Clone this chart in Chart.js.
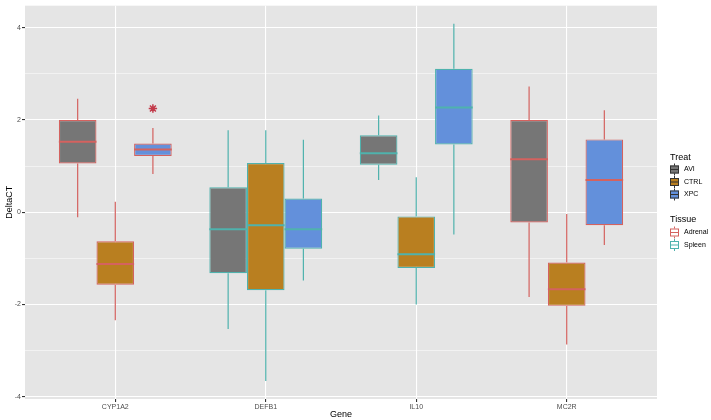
<!DOCTYPE html>
<html><head><meta charset="utf-8">
<script src="https://cdn.jsdelivr.net/npm/chart.js@4"></script>
<style>html,body{margin:0;padding:0;background:#fff;} #wrap{width:711px;height:420px;position:relative;}</style>
</head><body><div id="wrap"><canvas id="c" width="711" height="420"></canvas></div>
<script>
const genes = ['CYP1A2','DEFB1','IL10','MC2R'];
const geneTissue = ['Adrenal','Spleen','Spleen','Adrenal'];
const treats = ['AVI','CTRL','XPC'];
const tissues = ['Adrenal','Spleen'];
const yTickLabels = [-4,-2,0,2,4];

const aviLow  = [-0.11,-2.53, 0.70,-1.84];
const aviQ1   = [ 1.06,-1.32, 1.03,-0.22];
const aviMed  = [ 1.53,-0.37, 1.28, 1.15];
const aviQ3   = [ 2.00, 0.54, 1.67, 2.00];
const aviHigh = [ 2.46, 1.78, 2.10, 2.73];

const ctrlLow  = [-2.34,-3.66,-2.00,-2.87];
const ctrlQ1   = [-1.57,-1.69,-1.21,-2.03];
const ctrlMed  = [-1.12,-0.28,-0.91,-1.67];
const ctrlQ3   = [-0.63, 1.07,-0.09,-1.09];
const ctrlHigh = [ 0.23, 1.78, 0.76,-0.04];

const xpcLow  = [ 0.83,-1.48,-0.48,-0.71];
const xpcQ1   = [ 1.22,-0.79, 1.47,-0.28];
const xpcMed  = [ 1.36,-0.37, 2.27, 0.70];
const xpcQ3   = [ 1.49, 0.30, 3.11, 1.58];
const xpcHigh = [ 1.83, 1.57, 4.09, 2.21];

const outlierGene  = ['CYP1A2'];
const outlierTreat = ['XPC'];
const outlierValue = [2.25];

const treatFill = {AVI:'#767676', CTRL:'#B97F20', XPC:'#6390DB'};
const tissueColor = {Adrenal:'#D4625F', Spleen:'#4FB2AD'};
const outlierColor = '#C23A4A';
const FONT = '"Liberation Sans", Arial, sans-serif';

const stats = {
  AVI:  {low:aviLow, q1:aviQ1, med:aviMed, q3:aviQ3, high:aviHigh},
  CTRL: {low:ctrlLow, q1:ctrlQ1, med:ctrlMed, q3:ctrlQ3, high:ctrlHigh},
  XPC:  {low:xpcLow, q1:xpcQ1, med:xpcMed, q3:xpcQ3, high:xpcHigh}
};
const boxWidth = 0.75;
const edgeColors = geneTissue.map(t => tissueColor[t]);

const datasets = treats.map(t => ({
  type:'bar',
  label:t,
  treat:t,
  data: genes.map((g,i) => ({x:i+1, y:[stats[t].q1[i], stats[t].q3[i]]})),
  backgroundColor: treatFill[t],
  borderColor: edgeColors,
  borderWidth: 1.2,
  borderSkipped: false,
  categoryPercentage: boxWidth,
  barPercentage: 1
}));
datasets.push({
  type:'scatter',
  label:'outliers',
  data: outlierValue.map((v,k) => ({
    x: genes.indexOf(outlierGene[k]) + 1 + (treats.indexOf(outlierTreat[k]) - 1) * boxWidth / treats.length,
    y: v
  })),
  pointStyle:'star',
  radius:4.2,
  borderWidth:1.5,
  borderColor: outlierColor,
  backgroundColor:'transparent'
});

const panelPlugin = {
  id:'panel',
  beforeDraw(chart){
    const {ctx, chartArea:a} = chart;
    ctx.save(); ctx.fillStyle = '#E5E5E5';
    ctx.fillRect(a.left, a.top, a.right-a.left, a.bottom-a.top); ctx.restore();
  }
};

const boxPlugin = {
  id:'boxparts',
  afterDatasetsDraw(chart){
    const ctx = chart.ctx, ys = chart.scales.y;
    chart.data.datasets.forEach((ds, di) => {
      if (ds.type !== 'bar') return;
      const s = stats[ds.treat];
      chart.getDatasetMeta(di).data.forEach((el, i) => {
        const col = edgeColors[i];
        const half = el.width/2;
        ctx.save();
        ctx.strokeStyle = col; ctx.lineWidth = 1.2;
        ctx.beginPath();
        ctx.moveTo(el.x, ys.getPixelForValue(s.q3[i])); ctx.lineTo(el.x, ys.getPixelForValue(s.high[i]));
        ctx.moveTo(el.x, ys.getPixelForValue(s.q1[i])); ctx.lineTo(el.x, ys.getPixelForValue(s.low[i]));
        ctx.stroke();
        ctx.lineWidth = 2;
        ctx.beginPath();
        const my = ys.getPixelForValue(s.med[i]);
        ctx.moveTo(el.x-half, my); ctx.lineTo(el.x+half, my);
        ctx.stroke();
        ctx.restore();
      });
    });
  }
};

const legendPlugin = {
  id:'ggLegend',
  afterDraw(chart){
    const ctx = chart.ctx;
    const kx = 670, kw = 9, kh = 8, tx = 684;
    function key(y, fill, stroke){
      ctx.save();
      ctx.strokeStyle = stroke; ctx.lineWidth = 1;
      ctx.beginPath(); ctx.moveTo(kx+kw/2, y-6); ctx.lineTo(kx+kw/2, y+6); ctx.stroke();
      ctx.fillStyle = fill; ctx.fillRect(kx, y-kh/2, kw, kh);
      ctx.strokeRect(kx+0.5, y-kh/2+0.5, kw-1, kh-1);
      ctx.beginPath(); ctx.moveTo(kx, y); ctx.lineTo(kx+kw, y); ctx.stroke();
      ctx.restore();
    }
    ctx.save();
    ctx.textBaseline = 'middle'; ctx.textAlign = 'left'; ctx.fillStyle = '#000';
    ctx.font = '9px ' + FONT;
    ctx.fillText('Treat', 670, 158);
    ctx.fillText('Tissue', 670, 220);
    ctx.font = '7px ' + FONT;
    const ty = [169.5, 182, 194.5];
    treats.forEach((t,k) => { key(ty[k], treatFill[t], '#333333'); ctx.fillStyle='#000'; ctx.fillText(t, tx, ty[k]); });
    const sy = [232.5, 245];
    tissues.forEach((t,k) => { key(sy[k], '#FFFFFF', tissueColor[t]); ctx.fillStyle='#000'; ctx.fillText(t, tx, sy[k]); });
    ctx.restore();
  }
};

new Chart(document.getElementById('c'), {
  type:'bar',
  data:{datasets},
  plugins:[panelPlugin, boxPlugin, legendPlugin],
  options:{
    responsive:false, animation:false,
    layout:{padding:{top:5, right:54, left:0, bottom:0}},
    plugins:{legend:{display:false}, tooltip:{enabled:false}},
    scales:{
      x:{
        type:'linear', min:0.4, max:4.6, offset:false,
        afterBuildTicks(s){ s.ticks = genes.map((g,i)=>({value:i+1})); },
        afterFit(s){ s.height = 21; },
        ticks:{ callback:(v)=>genes[Math.round(v)-1] ?? '', color:'#4D4D4D', font:{family:FONT, size:7}, padding:1, maxRotation:0, autoSkip:false },
        grid:{ color:'#FFFFFF', lineWidth:1.1, offset:false, tickColor:'#333333', tickLength:3, drawOnChartArea:true },
        border:{display:false},
        title:{display:true, text:'Gene', color:'#000', font:{family:FONT, size:9}, padding:{top:0,bottom:0}}
      },
      y:{
        type:'linear', min:-4.05, max:4.48,
        afterBuildTicks(s){ s.ticks = [-4,-3,-2,-1,0,1,2,3,4].map(v=>({value:v})); },
        afterFit(s){ s.width = 25; },
        ticks:{ callback:(v)=> yTickLabels.includes(v) ? String(v) : '', color:'#4D4D4D', font:{family:FONT, size:7}, padding:1 },
        grid:{ color:'#FFFFFF', lineWidth:(c)=> (c.tick && yTickLabels.includes(c.tick.value)) ? 1.1 : 0.5,
               tickColor:(c)=> (c.tick && yTickLabels.includes(c.tick.value)) ? '#333333' : 'rgba(0,0,0,0)', tickLength:3 },
        border:{display:false},
        title:{display:true, text:'DeltaCT', color:'#000', font:{family:FONT, size:9}, padding:{top:4,bottom:0}}
      }
    }
  }
});
</script>
</body></html>
